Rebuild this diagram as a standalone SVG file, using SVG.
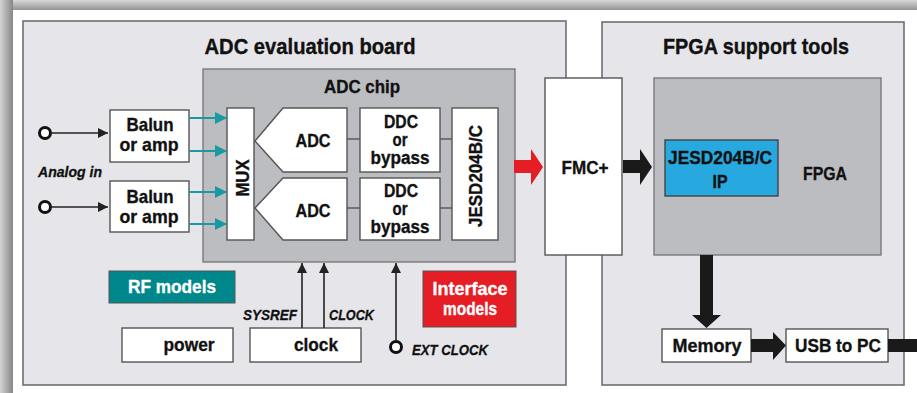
<svg xmlns="http://www.w3.org/2000/svg" width="917" height="393" viewBox="0 0 917 393">
<defs>
<linearGradient id="gTop" x1="0" y1="0" x2="0" y2="1"><stop offset="0" stop-color="#d8d8d8"/><stop offset="1" stop-color="#939393"/></linearGradient>
<linearGradient id="gLeft" x1="0" y1="0" x2="1" y2="0"><stop offset="0" stop-color="#d4d4d4"/><stop offset="1" stop-color="#868686"/></linearGradient>
<marker id="ahB" viewBox="0 0 10 10" refX="10" refY="5" markerWidth="10" markerHeight="10" markerUnits="userSpaceOnUse" orient="auto"><path d="M0,0 L10,5 L0,10 z" fill="#222"/></marker>
<marker id="ahT" viewBox="0 0 10 10" refX="10" refY="5" markerWidth="12" markerHeight="12" markerUnits="userSpaceOnUse" orient="auto"><path d="M0,0 L10,5 L0,10 z" fill="#1a9aa0"/></marker>
<style>
.panel{fill:#e6e6ea;stroke:#6f6f72;stroke-width:1.6}
.chip{fill:#bcbdc1;stroke:#7a7a7d;stroke-width:1.4}
.box{fill:#fff;stroke:#555;stroke-width:1.4}
.t{font-family:"Liberation Sans",Arial,sans-serif;font-weight:bold;fill:#111;stroke:#111;stroke-width:0.35;text-anchor:middle}
.ti{font-family:"Liberation Sans",Arial,sans-serif;font-weight:bold;font-style:italic;fill:#111;stroke:#111;stroke-width:0.3}
.w{fill:#fff;stroke:#fff}
.lk{stroke:#555;stroke-width:1.4;fill:none}
.ar{stroke:#222;stroke-width:1.6;fill:none}
.tl{stroke:#1a9aa0;stroke-width:1.8;fill:none}
.port{fill:#fff;stroke:#111;stroke-width:3}
</style>
</defs>
<rect x="0" y="0" width="917" height="393" fill="#b8b8b8"/>
<rect x="0" y="0" width="917" height="10" fill="url(#gTop)"/>
<rect x="0" y="0" width="13" height="393" fill="url(#gLeft)"/>
<rect x="13" y="10" width="904" height="383" fill="#fff"/>

<g id="adc-board"><rect class="panel" x="23" y="21" width="543" height="364"/>
<text class="t" x="310" y="54" font-size="22" textLength="211" lengthAdjust="spacingAndGlyphs">ADC evaluation board</text></g>
<g id="fpga-tools"><rect class="panel" x="602" y="22" width="302" height="363"/>
<text class="t" x="756" y="54" font-size="22" textLength="186" lengthAdjust="spacingAndGlyphs">FPGA support tools</text></g>

<g id="adc-chip"><rect class="chip" x="203" y="69" width="312" height="193"/>
<text class="t" x="362" y="93" font-size="18" textLength="76" lengthAdjust="spacingAndGlyphs">ADC chip</text></g>

<g id="balun1"><rect class="box" x="110" y="110" width="79" height="52"/>
<text class="t" x="150" y="131" font-size="19" textLength="47" lengthAdjust="spacingAndGlyphs">Balun</text>
<text class="t" x="149" y="151" font-size="19" textLength="59" lengthAdjust="spacingAndGlyphs">or amp</text></g>
<g id="balun2"><rect class="box" x="110" y="181" width="79" height="51"/>
<text class="t" x="150" y="203" font-size="19" textLength="47" lengthAdjust="spacingAndGlyphs">Balun</text>
<text class="t" x="149" y="223" font-size="19" textLength="59" lengthAdjust="spacingAndGlyphs">or amp</text></g>

<g id="analog-in"><text class="ti" x="38" y="177" font-size="15" textLength="64" lengthAdjust="spacingAndGlyphs">Analog in</text>
<circle class="port" cx="45" cy="133" r="5.5"/><circle class="port" cx="45" cy="207" r="5.5"/></g>

<g id="mux"><rect class="box" x="227" y="108" width="27" height="132"/>
<text class="t" transform="translate(249,178) rotate(-90)" x="0" y="0" font-size="18" textLength="37" lengthAdjust="spacingAndGlyphs">MUX</text></g>

<g id="adc1"><path class="box" d="M255,141 L283,108 L347,108 L347,172 L283,172 Z"/>
<text class="t" x="313" y="147" font-size="19" textLength="35" lengthAdjust="spacingAndGlyphs">ADC</text></g>
<g id="adc2"><path class="box" d="M255,208 L283,178 L347,178 L347,240 L283,240 Z"/>
<text class="t" x="313" y="217" font-size="19" textLength="35" lengthAdjust="spacingAndGlyphs">ADC</text></g>

<g id="ddc1"><rect class="box" x="360" y="108" width="80" height="64"/>
<text class="t" x="401" y="128" font-size="18" textLength="34" lengthAdjust="spacingAndGlyphs">DDC</text>
<text class="t" x="400" y="146" font-size="18" textLength="15" lengthAdjust="spacingAndGlyphs">or</text>
<text class="t" x="400" y="164" font-size="18" textLength="59" lengthAdjust="spacingAndGlyphs">bypass</text></g>
<g id="ddc2"><rect class="box" x="360" y="178" width="80" height="62"/>
<text class="t" x="401" y="197" font-size="18" textLength="34" lengthAdjust="spacingAndGlyphs">DDC</text>
<text class="t" x="400" y="215" font-size="18" textLength="15" lengthAdjust="spacingAndGlyphs">or</text>
<text class="t" x="400" y="233" font-size="18" textLength="59" lengthAdjust="spacingAndGlyphs">bypass</text></g>

<g id="jesd-tx"><rect class="box" x="452" y="108" width="46" height="132"/>
<text class="t" transform="translate(482,176) rotate(-90)" x="0" y="0" font-size="18" textLength="102" lengthAdjust="spacingAndGlyphs">JESD204B/C</text></g>

<g id="fmc"><rect class="box" x="545" y="78" width="77" height="177" stroke="#666"/>
<text class="t" x="585" y="174" font-size="19" textLength="47" lengthAdjust="spacingAndGlyphs">FMC+</text></g>

<g id="fpga"><rect class="chip" x="654" y="78" width="227" height="177"/>
<text class="t" x="825" y="180" font-size="19" textLength="44" lengthAdjust="spacingAndGlyphs">FPGA</text></g>
<g id="jesd-ip"><rect x="665" y="140" width="113" height="56" fill="#27a8df" stroke="#444" stroke-width="1.4"/>
<text class="t" x="720" y="164" font-size="19" textLength="104" lengthAdjust="spacingAndGlyphs">JESD204B/C</text>
<text class="t" x="720" y="188" font-size="19" textLength="15" lengthAdjust="spacingAndGlyphs">IP</text></g>

<g id="rf-models"><rect x="109" y="271" width="126" height="32" fill="#00878c" stroke="#555" stroke-width="1"/>
<text class="t w" x="172" y="293" font-size="19" textLength="88" lengthAdjust="spacingAndGlyphs">RF models</text></g>
<g id="interface-models"><rect x="423" y="271" width="93" height="56" fill="#e51d24" stroke="#555" stroke-width="1"/>
<text class="t w" x="470" y="295" font-size="19" textLength="75" lengthAdjust="spacingAndGlyphs">Interface</text>
<text class="t w" x="470" y="315" font-size="19" textLength="54" lengthAdjust="spacingAndGlyphs">models</text></g>

<g id="power"><rect class="box" x="122" y="328" width="111" height="34"/>
<text class="t" x="189" y="351" font-size="19" textLength="51" lengthAdjust="spacingAndGlyphs">power</text></g>
<g id="clock"><rect class="box" x="250" y="328" width="111" height="34"/>
<text class="t" x="316" y="351" font-size="19" textLength="44" lengthAdjust="spacingAndGlyphs">clock</text></g>

<g id="memory"><rect class="box" x="662" y="329" width="89" height="33"/>
<text class="t" x="707" y="352" font-size="19" textLength="69" lengthAdjust="spacingAndGlyphs">Memory</text></g>
<g id="usb"><rect class="box" x="786" y="329" width="102" height="33"/>
<text class="t" x="838" y="352" font-size="19" textLength="86" lengthAdjust="spacingAndGlyphs">USB to PC</text></g>

<g id="ext-clock"><circle class="port" cx="396" cy="347" r="5.5"/>
<text class="ti" x="412" y="355" font-size="15" textLength="76" lengthAdjust="spacingAndGlyphs">EXT CLOCK</text></g>

<g id="connectors">
<line class="ar" x1="51" y1="133" x2="108" y2="133" marker-end="url(#ahB)"/>
<line class="ar" x1="51" y1="207" x2="108" y2="207" marker-end="url(#ahB)"/>
<line class="tl" x1="189" y1="118" x2="227" y2="118" marker-end="url(#ahT)"/>
<line class="tl" x1="189" y1="151" x2="227" y2="151" marker-end="url(#ahT)"/>
<line class="tl" x1="189" y1="192" x2="227" y2="192" marker-end="url(#ahT)"/>
<line class="tl" x1="189" y1="224" x2="227" y2="224" marker-end="url(#ahT)"/>
<line class="lk" x1="347" y1="139" x2="360" y2="139"/>
<line class="lk" x1="440" y1="139" x2="452" y2="139"/>
<line class="lk" x1="347" y1="208" x2="360" y2="208"/>
<line class="lk" x1="440" y1="208" x2="452" y2="208"/>
<line class="ar" x1="302" y1="328" x2="302" y2="263" marker-end="url(#ahB)"/>
<line class="ar" x1="324" y1="328" x2="324" y2="263" marker-end="url(#ahB)"/>
<line class="ar" x1="396" y1="341" x2="396" y2="263" marker-end="url(#ahB)"/>
<text class="ti" x="297" y="320" font-size="15" text-anchor="end" textLength="54" lengthAdjust="spacingAndGlyphs">SYSREF</text>
<text class="ti" x="329" y="320" font-size="15" textLength="45" lengthAdjust="spacingAndGlyphs">CLOCK</text>
<path d="M514,160 L531,160 L531,149 L543,167 L531,185 L531,173 L514,173 Z" fill="#e51d24"/>
<path d="M623,160 L640,160 L640,149 L652,167 L640,185 L640,173 L623,173 Z" fill="#1a1a1a"/>
<path d="M700,255 L713,255 L713,315 L721,315 L706.5,328 L692,315 L700,315 Z" fill="#1a1a1a"/>
<path d="M751,339 L773,339 L773,332 L786,345.5 L773,360 L773,352 L751,352 Z" fill="#1a1a1a"/>
<rect x="888" y="339" width="29" height="13" fill="#1a1a1a"/>
</g>
</svg>
